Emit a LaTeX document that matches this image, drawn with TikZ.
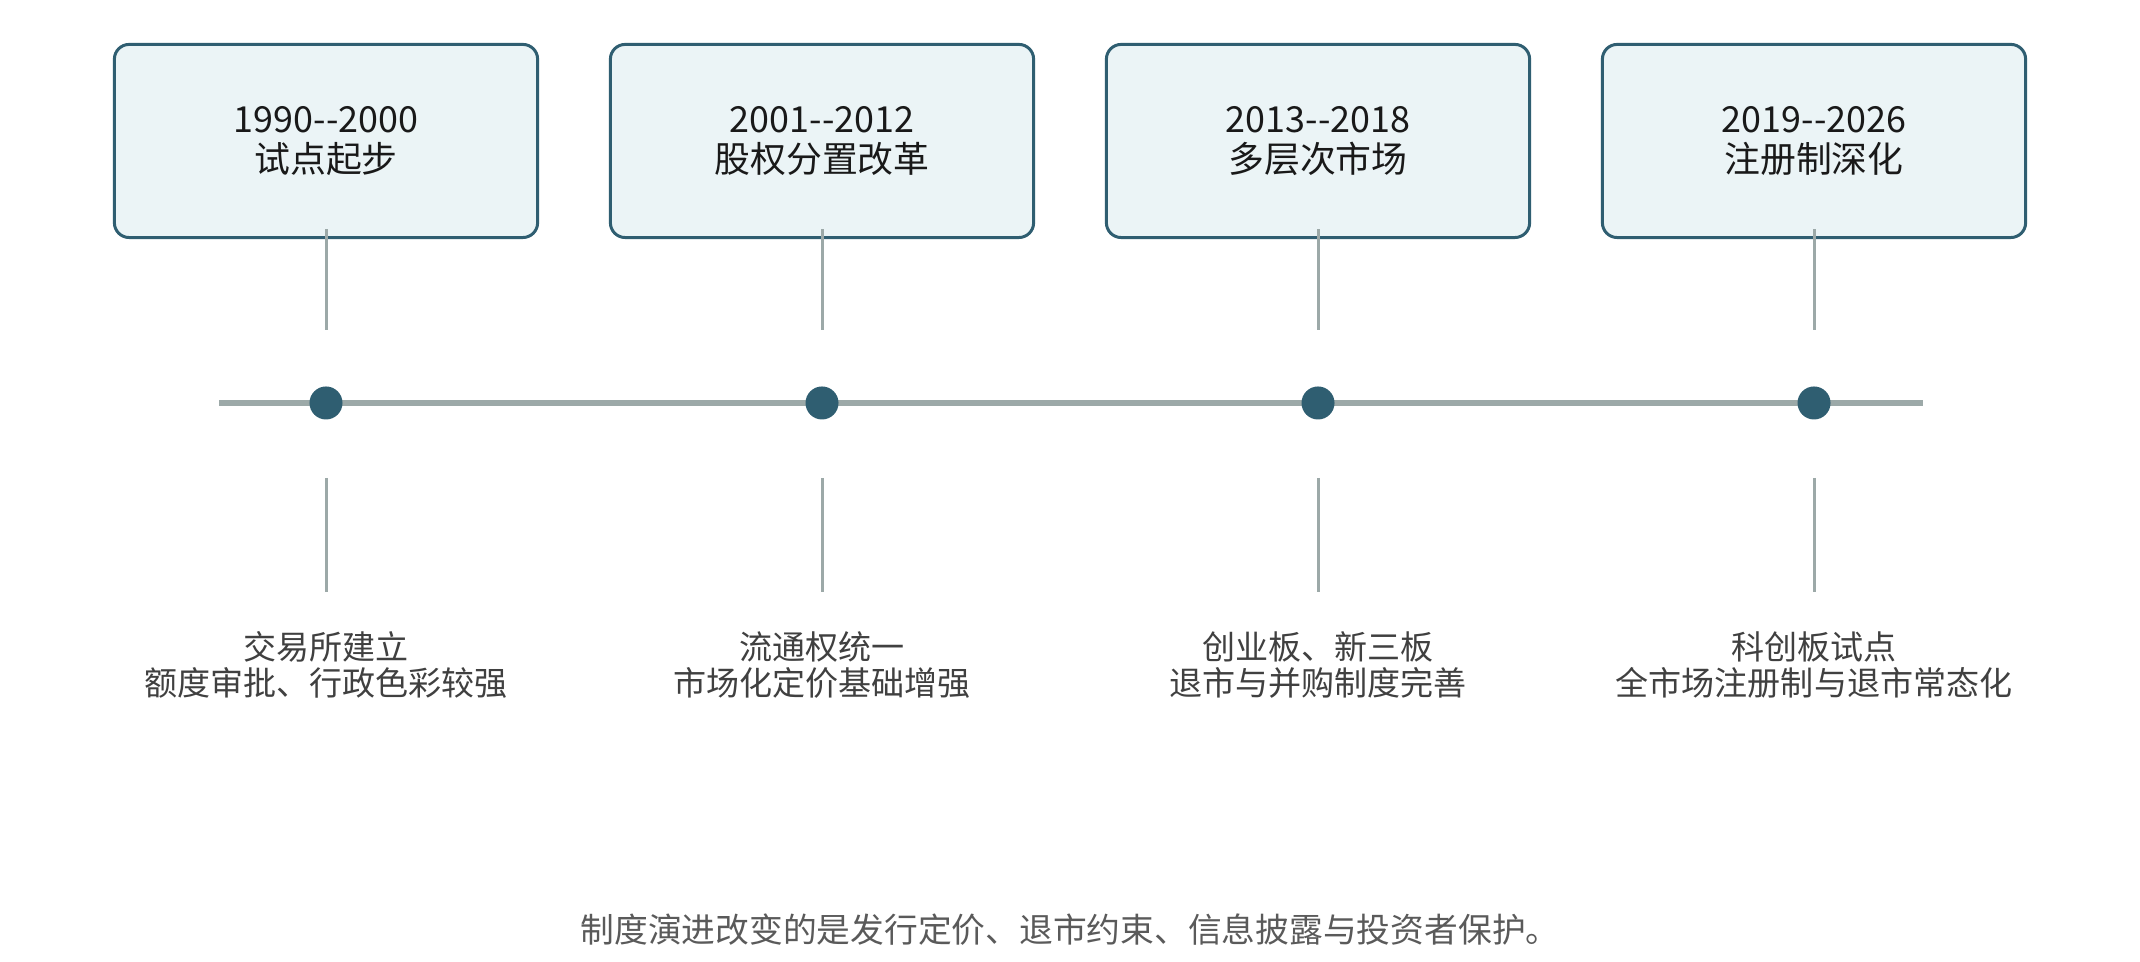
\documentclass[tikz,border=0pt]{standalone}
\usepackage{fontspec}
\newfontfamily\cjk{Noto Sans CJK SC}
\usetikzlibrary{positioning}
\definecolor{ink}{HTML}{2F5E71}
\definecolor{pale}{HTML}{EBF4F6}
\definecolor{rail}{HTML}{9CA9A8}
\definecolor{body}{HTML}{404040}
\definecolor{foot}{HTML}{5A5A5A}

\begin{document}
\begin{tikzpicture}[x=0.01cm,y=0.01cm,
          era/.style={draw=ink,fill=pale,line width=0.85pt,rounded corners=4.2pt,
            minimum width=4.23cm,minimum height=1.93cm,align=center,text=black!90,
            font=\cjk\fontsize{10.2}{11.4}\selectfont},
          dot/.style={circle,fill=ink,inner sep=0pt,minimum size=0.33cm},
          stem/.style={draw=rail,line width=0.85pt},
          axis/.style={draw=rail,line width=1.7pt},
          note/.style={align=center,text=body,font=\cjk\fontsize{9.4}{10.2}\selectfont},
          foot/.style={text=foot,font=\cjk\fontsize{9.6}{11}\selectfont}
        ]
        \useasboundingbox (0,0) rectangle (2140,962);
        \coordinate (a0) at (219,559);
        \coordinate (a1) at (1923,559);
        \draw[axis] (a0) -- (a1);
        \foreach\i/\x/\yr/\ttl/\la/\lb in {
            1/326/1990--2000/试点起步/交易所建立/额度审批、行政色彩较强,
            2/822/2001--2012/股权分置改革/流通权统一/市场化定价基础增强,
            3/1318/2013--2018/多层次市场/创业板、新三板/退市与并购制度完善,
            4/1814/2019--2026/注册制深化/科创板试点/全市场注册制与退市常态化}{
          \node[era] (e\i) at (\x,821) {\yr\\\ttl};
          \coordinate (u\i) at (\x,632);
          \draw[stem] ([yshift=0.1cm]e\i.south) -- (u\i);
          \node[dot] (d\i) at (\x,559) {};
          \coordinate (la\i) at (\x,484);
          \coordinate (lb\i) at (\x,370);
          \draw[stem] (la\i) -- (lb\i);
          \node[note] (n\i) at (\x,297) {\la\\\lb};
        }
        \node[foot] (msg) at (1070,32) {制度演进改变的是发行定价、退市约束、信息披露与投资者保护。};
      \end{tikzpicture}
\end{document}
